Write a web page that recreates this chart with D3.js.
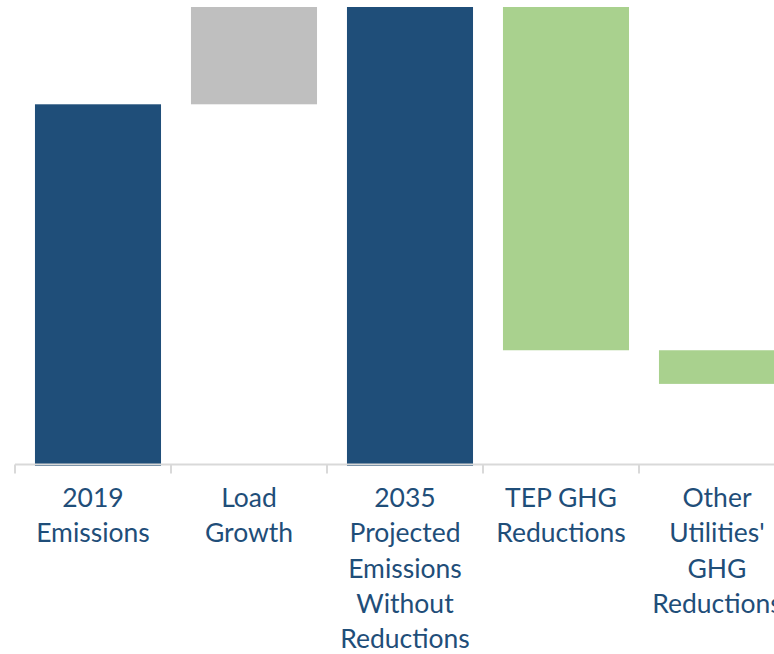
<!DOCTYPE html>
<html>
<head>
<meta charset="utf-8">
<script src="https://cdn.jsdelivr.net/npm/d3@7"></script>
<style>
  body { margin: 0; background: #fff; }
  svg { display: block; }
</style>
</head>
<body>
<div id="chart"></div>
<script>
const categories = ['2019 Emissions', 'Load Growth', '2035 Projected Emissions Without Reductions', 'TEP GHG Reductions', "Other Utilities' GHG Reductions"];
const tickLabels = [
  ['2019', 'Emissions'],
  ['Load', 'Growth'],
  ['2035', 'Projected', 'Emissions', 'Without', 'Reductions'],
  ['TEP GHG', 'Reductions'],
  ['Other', "Utilities'", 'GHG', 'Reductions']
];
// waterfall steps: totals start at 0, deltas float
const kinds = ['total', 'increase', 'total', 'decrease', 'decrease'];
const values = [10.0, 3.5, 13.5, 10.3, 0.93];

const colors = { total: '#1F4E79', increase: '#BFBFBF', decrease: '#A9D18E' };

const width = 774;
const height = 654;

// build the floating segments
let running = 0;
const bars = categories.map((c, i) => {
  let y0, y1;
  if (kinds[i] === 'total') { y0 = 0; y1 = values[i]; running = values[i]; }
  else if (kinds[i] === 'increase') { y0 = running; y1 = running + values[i]; running = y1; }
  else { y0 = running - values[i]; y1 = running; running = y0; }
  return { cat: c, kind: kinds[i], y0, y1 };
});

const svg = d3.select('#chart')
  .append('svg')
  .attr('width', width)
  .attr('height', height);

const x = d3.scaleBand()
  .domain(categories)
  .range([15, 795])
  .padding(0);

const y = d3.scaleLinear()
  .domain([0, 12.69])
  .range([466, 7]);

svg.append('clipPath')
  .attr('id', 'plot')
  .append('rect')
  .attr('x', 0)
  .attr('y', 7)
  .attr('width', width)
  .attr('height', 470);

svg.append('g')
  .attr('clip-path', 'url(#plot)')
  .selectAll('rect')
  .data(bars)
  .join('rect')
    .attr('x', d => x(d.cat) + x.step() * 0.128)
    .attr('width', x.step() * 0.808)
    .attr('y', d => y(d.y1))
    .attr('height', d => y(d.y0) - y(d.y1))
    .attr('fill', d => colors[d.kind]);

const axis = svg.append('g')
  .attr('transform', 'translate(0,464.5)')
  .call(d3.axisBottom(x).tickSize(0).tickFormat(''));
axis.select('.domain').remove();
axis.append('line')
  .attr('x1', 15).attr('x2', width)
  .attr('stroke', '#D9D9D9').attr('stroke-width', 2);

axis.selectAll('.tick').remove();
axis.selectAll('.tk')
  .data(categories.concat(['end']))
  .join('line')
    .attr('class', 'tk')
    .attr('x1', (d, i) => 15 + i * x.step())
    .attr('x2', (d, i) => 15 + i * x.step())
    .attr('y1', 0).attr('y2', 9)
    .attr('stroke', '#D9D9D9').attr('stroke-width', 2);

const labels = svg.append('g')
  .attr('font-family', 'Lato, "Open Sans", sans-serif')
  .attr('font-size', '26.5px')
  .attr('fill', '#1F4E79')
  .attr('text-anchor', 'middle');

labels.selectAll('text')
  .data(categories)
  .join('text')
    .attr('x', d => x(d) + x.bandwidth() / 2)
    .attr('y', 507)
    .selectAll('tspan')
    .data((d, i) => tickLabels[i])
    .join('tspan')
      .attr('x', function() { return this.parentNode.getAttribute('x'); })
      .attr('dy', (d, i) => i === 0 ? 0 : 35.3)
      .text(d => d);
</script>
</body>
</html>
